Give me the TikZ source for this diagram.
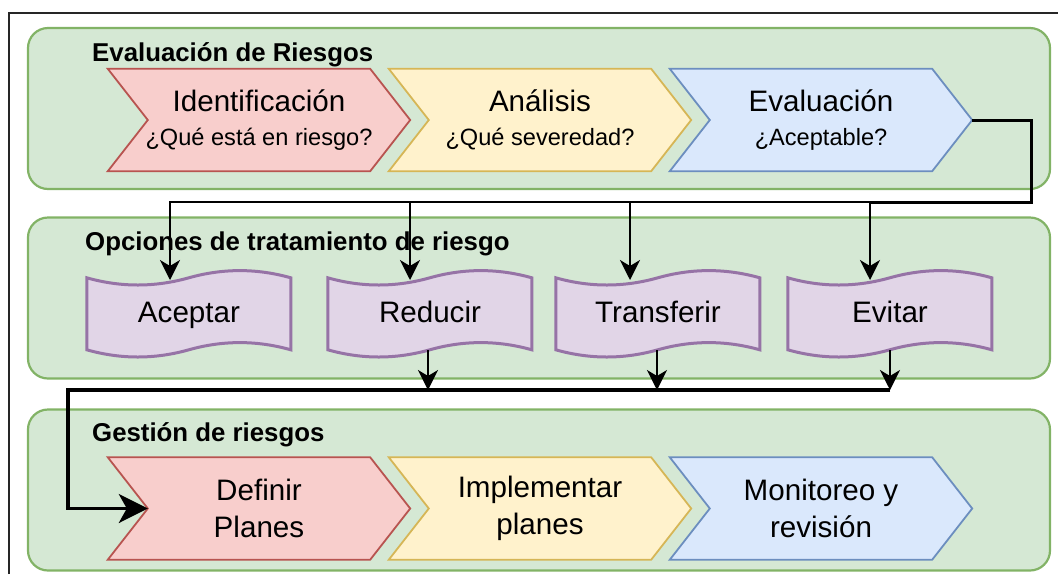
\documentclass[tikz,border=0pt]{standalone}
\usepackage{fontspec}
\setmainfont{Liberation Sans}
\usetikzlibrary{arrows.meta,calc}
\pgfdeclarelayer{bg}\pgfdeclarelayer{mid}\pgfsetlayers{bg,mid,main}
\definecolor{grnF}{HTML}{D5E8D4}\definecolor{grnD}{HTML}{82B366}
\definecolor{redF}{HTML}{F8CECC}\definecolor{redD}{HTML}{B85450}
\definecolor{yelF}{HTML}{FFF2CC}\definecolor{yelD}{HTML}{D6B656}
\definecolor{bluF}{HTML}{DAE8FC}\definecolor{bluD}{HTML}{6C8EBF}
\definecolor{purF}{HTML}{E1D5E7}\definecolor{purD}{HTML}{9673A6}
\newcommand\stepsubfont{\fontsize{23.6}{34}\selectfont}
\newcommand\chevshape[2]{%
  \begin{pgfonlayer}{mid}
  \path[#2] (#1.north west) -- ([xshift=-40pt]#1.north east) -- (#1.east) -- ([xshift=-40pt]#1.south east) -- (#1.south west) -- ([xshift=40pt]#1.west) -- cycle;
  \end{pgfonlayer}}
\newcommand\tapeshape[1]{%
  \begin{pgfonlayer}{mid}
  \path[tapestyle,shift={(#1.north west)}] (0,8) .. controls (34,17.6) and (68,17.6) .. (102,8) .. controls (136,-1.6) and (170,-1.6) .. (204,8) -- (204,80) .. controls (170,70.4) and (136,70.4) .. (102,80) .. controls (68,89.6) and (34,89.6) .. (0,80) -- cycle;
  \end{pgfonlayer}}
\tikzset{
  container/.style={draw=grnD,fill=grnF,line width=2.2pt,rounded corners=20pt,minimum width=1022pt,minimum height=161pt,inner sep=0pt},
  grouptitle/.style={font=\fontsize{25.8}{30}\selectfont\bfseries,anchor=base west,inner sep=0pt},
  stepbox/.style={minimum width=302pt,minimum height=102pt,inner sep=0pt,align=center},
  toprow/.style={font=\fontsize{29.6}{34}\selectfont},
  botrow/.style={font=\fontsize{29.6}{37}\selectfont},
  redstep/.style={fill=redF,draw=redD,line width=1.8pt},
  yelstep/.style={fill=yelF,draw=yelD,line width=1.8pt},
  blustep/.style={fill=bluF,draw=bluD,line width=1.8pt},
  tapebox/.style={minimum width=204pt,minimum height=88pt,inner sep=0pt,font=\fontsize{29.6}{34}\selectfont,text height=21.5pt,text depth=4pt},
  tapestyle/.style={fill=purF,draw=purD,line width=3pt},
  conn/.style={draw=black,line width=2pt,-{Stealth[length=20pt,width=20pt,inset=6pt]}},
  trunkline/.style={draw=black,line width=3pt},
  bigconn/.style={draw=black,line width=3.2pt,-{Stealth[length=29pt,width=29pt,inset=8pt]}},
  frame/.style={draw=black!85,line width=1.3pt}
}
\begin{document}
\begin{tikzpicture}[x=1pt,y=-1pt]
\useasboundingbox (0,0) rectangle (1058,574);
\draw[frame] (9,574) -- (9,13) -- (1058,13);
% containers
\begin{pgfonlayer}{bg}
\node[container] (c1) at (539,108.5) {};
\node[container] (c2) at (539,298) {};
\node[container] (c3) at (539,490) {};
\end{pgfonlayer}
\node[grouptitle] (t1) at (92,61) {Evaluación de Riesgos};
\node[grouptitle] (t2) at (85,250) {Opciones de tratamiento de riesgo};
\node[grouptitle] (t3) at (92,441) {Gestión de riesgos};
% row 1
\node[stepbox,toprow] (id) at (259,120) {Identificación\\{\stepsubfont ¿Qué está en riesgo?}};
\node[stepbox,toprow] (an) at (540,120) {Análisis\\{\stepsubfont ¿Qué severedad?}};
\node[stepbox,toprow] (ev) at (821,120) {Evaluación\\{\stepsubfont ¿Aceptable?}};
\chevshape{id}{redstep}\chevshape{an}{yelstep}\chevshape{ev}{blustep}
% row 2
\node[tapebox] (ac) at (189,314) {Aceptar};
\node[tapebox] (re) at (430,314) {Reducir};
\node[tapebox] (tr) at (658,314) {Transferir};
\node[tapebox] (evi) at (890,314) {Evitar};
\tapeshape{ac}\tapeshape{re}\tapeshape{tr}\tapeshape{evi}
% row 3
\node[stepbox,botrow] (def) at (259,508.5) {Definir\\Planes};
\node[stepbox,botrow] (imp) at (540,508.5) {Implementar\\planes};
\node[stepbox,botrow] (mon) at (821,508.5) {Monitoreo y\\revisión};
\chevshape{def}{redstep}\chevshape{imp}{yelstep}\chevshape{mon}{blustep}
% connectors
\coordinate (cR) at (1031,202);
\coordinate (ac-in) at (170,280);
\coordinate (re-in) at (410,280);
\coordinate (tr-in) at (630,280);
\coordinate (evi-in) at (870,280);
\draw[trunkline] (ev.east) -| (cR) -- (cR -| evi-in);
\draw[conn] (ev.east) -| (cR) -| (ac-in);
\draw[conn] (ev.east) -| (cR) -| (re-in);
\draw[conn] (ev.east) -| (cR) -| (tr-in);
\draw[conn] (ev.east) -| (cR) -| (evi-in);
\coordinate (jy) at (0,390);
\coordinate (re-out) at ([xshift=-2pt,yshift=8pt]re.south);
\coordinate (tr-out) at ([xshift=-1pt,yshift=8pt]tr.south);
\coordinate (evi-out) at ([yshift=8pt]evi.south);
\coordinate (j1) at (re-out |- jy);
\coordinate (j2) at (tr-out |- jy);
\coordinate (j3) at (evi-out |- jy);
\draw[conn] (re-out) -- (j1);
\draw[conn] (tr-out) -- (j2);
\draw[conn] (evi-out) -- (j3);
\coordinate (lc) at (68,390);
\draw[bigconn,line join=miter] (j3) -- (lc) |- ([xshift=40pt]def.west);
\end{tikzpicture}
\end{document}
